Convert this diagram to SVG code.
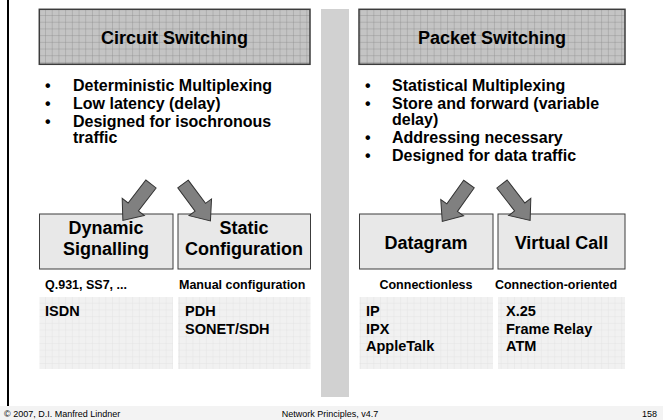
<svg xmlns="http://www.w3.org/2000/svg" width="663" height="420" viewBox="0 0 663 420">
  <defs>
    <pattern id="gridDark" patternUnits="userSpaceOnUse" x="39.3" y="9.3" width="6.7" height="6.7">
      <rect width="6.7" height="6.7" fill="#c4c4c4"/>
      <path d="M6.7 0V6.7M0 6.7H6.7" stroke="#8c8c8c" stroke-width="0.8" fill="none"/>
    </pattern>
    <pattern id="gridLight" patternUnits="userSpaceOnUse" x="39.3" y="297" width="6.7" height="6.7">
      <rect width="6.7" height="6.7" fill="#f1f1f1"/>
      <path d="M6.7 0V6.7M0 6.7H6.7" stroke="#e0e0e0" stroke-width="0.7" fill="none"/>
    </pattern>
    <polygon id="blockArrow" points="0,-6.5 29,-6.5 29,-14 46,0 29,14 29,6.5 0,6.5"/>
  </defs>
  <style>
    .t { font-family: "Liberation Sans", Arial, sans-serif; font-weight: bold; fill: #000; }
    .title { font-size: 18px; text-anchor: middle; }
    .bul { font-size: 16px; }
    .box { fill: #e8e8e8; stroke: #3c3c3c; stroke-width: 1; }
    .hdr { fill: url(#gridDark); stroke: #3c3c3c; stroke-width: 1.5; }
    .low { fill: url(#gridLight); }
    .lbl { font-size: 12.5px; }
    .ex { font-size: 14.5px; }
    .foot { font-family: "Liberation Sans", Arial, sans-serif; font-size: 9px; fill: #000; }
    .arr { fill: #808080; stroke: #333; stroke-width: 1; stroke-linejoin: miter; }
  </style>

  <rect width="663" height="420" fill="#ffffff"/>
  <rect x="0" y="406" width="663" height="14" fill="#f3f3f3"/>
  <rect x="7" y="0" width="2" height="406" fill="#000"/>
  <rect x="321" y="9" width="28" height="388" fill="#d1d1d1"/>

  <g id="circuit-switching">
    <rect class="hdr" x="39.3" y="9.3" width="270.7" height="55"/>
    <text class="t title" x="174.5" y="44">Circuit Switching</text>
  </g>
  <g id="circuit-bullets">
    <text class="t bul" x="45" y="91">•</text>
    <text class="t bul" x="73" y="91">Deterministic Multiplexing</text>
    <text class="t bul" x="45" y="108.5">•</text>
    <text class="t bul" x="73" y="108.5">Low latency (delay)</text>
    <text class="t bul" x="45" y="126.5">•</text>
    <text class="t bul" x="73" y="126.5">Designed for isochronous</text>
    <text class="t bul" x="73" y="143">traffic</text>
  </g>

  <g id="packet-switching">
    <rect class="hdr" x="359" y="9.3" width="266" height="55"/>
    <text class="t title" x="492" y="44">Packet Switching</text>
  </g>
  <g id="packet-bullets">
    <text class="t bul" x="365" y="91">•</text>
    <text class="t bul" x="392" y="91">Statistical Multiplexing</text>
    <text class="t bul" x="365" y="108.5">•</text>
    <text class="t bul" x="392" y="108.5">Store and forward (variable</text>
    <text class="t bul" x="392" y="125">delay)</text>
    <text class="t bul" x="365" y="143">•</text>
    <text class="t bul" x="392" y="143">Addressing necessary</text>
    <text class="t bul" x="365" y="161">•</text>
    <text class="t bul" x="392" y="161">Designed for data traffic</text>
  </g>

  <g id="dynamic-signalling">
    <rect class="box" x="39.5" y="214" width="133.5" height="55"/>
    <text class="t title" x="106" y="234">Dynamic</text>
    <text class="t title" x="106" y="255">Signalling</text>
    <text class="t lbl" x="45" y="289">Q.931, SS7, ...</text>
    <rect class="low" x="39.5" y="297" width="133.5" height="72"/>
    <text class="t ex" x="45" y="316">ISDN</text>
  </g>

  <g id="static-configuration">
    <rect class="box" x="178" y="214" width="132.5" height="55"/>
    <text class="t title" x="244" y="234">Static</text>
    <text class="t title" x="244" y="255">Configuration</text>
    <text class="t lbl" x="179" y="289">Manual configuration</text>
    <rect class="low" x="178" y="297" width="132.5" height="72"/>
    <text class="t ex" x="185" y="316">PDH</text>
    <text class="t ex" x="185" y="333.5">SONET/SDH</text>
  </g>

  <g id="datagram">
    <rect class="box" x="359.5" y="214" width="133.5" height="55"/>
    <text class="t title" x="426" y="248.5">Datagram</text>
    <text class="t lbl" x="426" y="289" text-anchor="middle">Connectionless</text>
    <rect class="low" x="359.5" y="297" width="133.5" height="72"/>
    <text class="t ex" x="366" y="316">IP</text>
    <text class="t ex" x="366" y="333.5">IPX</text>
    <text class="t ex" x="366" y="351">AppleTalk</text>
  </g>

  <g id="virtual-call">
    <rect class="box" x="498" y="214" width="127" height="55"/>
    <text class="t title" x="561.5" y="248.5">Virtual Call</text>
    <text class="t lbl" x="556" y="289" text-anchor="middle">Connection-oriented</text>
    <rect class="low" x="498" y="297" width="127" height="72"/>
    <text class="t ex" x="506" y="316">X.25</text>
    <text class="t ex" x="506" y="333.5">Frame Relay</text>
    <text class="t ex" x="506" y="351">ATM</text>
  </g>

  <g id="connectors">
    <use href="#blockArrow" class="arr" transform="translate(151,184) rotate(127.7)"/>
    <use href="#blockArrow" class="arr" transform="translate(183,184) rotate(53.4)"/>
    <use href="#blockArrow" class="arr" transform="translate(469,184) rotate(125.5)"/>
    <use href="#blockArrow" class="arr" transform="translate(502,184) rotate(52.3)"/>
  </g>

  <g id="footer">
    <text class="foot" x="4" y="417">© 2007, D.I. Manfred Lindner</text>
    <text class="foot" x="330" y="417" text-anchor="middle">Network Principles, v4.7</text>
    <text class="foot" x="657" y="417" text-anchor="end">158</text>
  </g>
</svg>
